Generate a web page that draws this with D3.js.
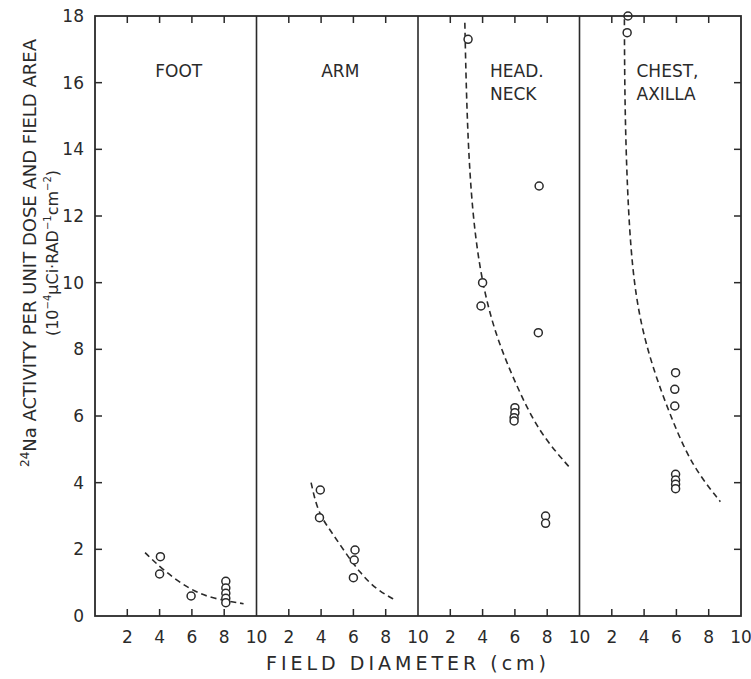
<!doctype html>
<html>
<head>
<meta charset="utf-8">
<title>24Na activity vs field diameter</title>
<script src="https://d3js.org/d3.v7.min.js"></script>
<style>
  body { margin: 0; background: #fff; }
  text { font-family: "DejaVu Sans", sans-serif; fill: #2a2a2a; }
</style>
</head>
<body>
<div id="here"></div>
<script>
// panels, left to right
var panels = ["FOOT", "ARM", "HEAD.|NECK", "CHEST,|AXILLA"];
var xTicks = [2, 4, 6, 8];
var xTickLabels = [2, 4, 6, 8, 10];
var yTicks = [0, 2, 4, 6, 8, 10, 12, 14, 16, 18];

// measured points (field diameter cm, activity)
var footPts = [[4.05, 1.78], [4.0, 1.26], [5.95, 0.6], [8.1, 1.04], [8.1, 0.84], [8.1, 0.68], [8.1, 0.53], [8.1, 0.4]];
var armPts = [[3.95, 3.78], [3.9, 2.95], [6.1, 1.98], [6.05, 1.68], [6.0, 1.15]];
var headPts = [[3.1, 17.3], [7.5, 12.9], [4.0, 10.0], [3.9, 9.3], [7.45, 8.5], [6.0, 6.25], [6.0, 6.1], [5.95, 5.95], [5.95, 5.85], [7.9, 3.0], [7.9, 2.78]];
var chestPts = [[3.0, 18.0], [2.95, 17.5], [5.95, 7.3], [5.9, 6.8], [5.9, 6.3], [5.95, 4.25], [5.95, 4.08], [5.95, 3.95], [5.95, 3.82]];

// dashed fitted curves
var footCurve = [[3.1, 1.9], [4.25, 1.36], [5.9, 0.78], [7.3, 0.52], [9.2, 0.37]];
var armCurve = [[3.38, 4.0], [3.8, 3.1], [4.6, 2.55], [5.5, 1.9], [6.4, 1.3], [7.4, 0.8], [8.65, 0.46]];
var headCurve = [[2.9, 17.8], [3.0, 15.5], [3.2, 13.2], [3.55, 11.3], [4.1, 9.7], [4.9, 8.3], [6.1, 6.9], [7.5, 5.5], [9.4, 4.45]];
var chestCurve = [[2.78, 17.9], [2.8, 15.5], [2.95, 12.8], [3.25, 10.4], [3.8, 8.7], [4.7, 7.2], [5.8, 5.8], [7.0, 4.48], [8.72, 3.43]];

var pts = [footPts, armPts, headPts, chestPts];
var curves = [footCurve, armCurve, headCurve, chestCurve];

var W = 751, H = 679;
var mLeft = 95, mRight = 741, mTop = 16, mBottom = 616;
var pw = (mRight - mLeft) / panels.length;
var ink = "#2a2a2a";

var svg = d3.select("#here").append("svg")
  .attr("width", W)
  .attr("height", H);

var y = d3.scaleLinear().domain([0, 18]).range([mBottom, mTop]);

// y ticks, inside on both outer edges
yTicks.slice(1, -1).forEach(function(v) {
  svg.append("line").attr("x1", mLeft).attr("x2", mLeft + 7).attr("y1", y(v)).attr("y2", y(v))
    .attr("stroke", ink).attr("stroke-width", 1.5);
  svg.append("line").attr("x1", mRight).attr("x2", mRight - 7).attr("y1", y(v)).attr("y2", y(v))
    .attr("stroke", ink).attr("stroke-width", 1.5);
});
svg.selectAll(".ylab").data(yTicks).enter().append("text")
  .attr("x", 84).attr("y", function(d) { return y(d) + 6; })
  .attr("text-anchor", "end").attr("font-size", 17)
  .text(function(d) { return d; });

var line = d3.line().curve(d3.curveBasis);

panels.forEach(function(name, i) {
  var x = d3.scaleLinear().domain([0, 10]).range([mLeft + i * pw, mLeft + (i + 1) * pw]);
  var g = svg.append("g");

  // ticks top and bottom
  xTicks.forEach(function(v) {
    g.append("line").attr("x1", x(v)).attr("x2", x(v)).attr("y1", mBottom).attr("y2", mBottom - 7)
      .attr("stroke", ink).attr("stroke-width", 1.5);
    g.append("line").attr("x1", x(v)).attr("x2", x(v)).attr("y1", mTop).attr("y2", mTop + 7)
      .attr("stroke", ink).attr("stroke-width", 1.5);
  });
  g.selectAll(".xlab").data(xTickLabels).enter().append("text")
    .attr("x", function(d) { return x(d); }).attr("y", 643)
    .attr("text-anchor", "middle").attr("font-size", 17)
    .text(function(d) { return d; });

  // divider
  if (i > 0) {
    g.append("line").attr("x1", x(0)).attr("x2", x(0)).attr("y1", mTop).attr("y2", mBottom)
      .attr("stroke", ink).attr("stroke-width", 1.6);
  }

  // title
  var parts = name.split("|");
  if (parts.length === 1) {
    g.append("text").attr("x", (x(0) + x(10)) / 2 + 3).attr("y", 77)
      .attr("text-anchor", "middle").attr("font-size", 17).text(parts[0]);
  } else {
    parts.forEach(function(p, k) {
      g.append("text").attr("x", x(0) + (i === 2 ? 72 : 57)).attr("y", 77 + k * 23)
        .attr("font-size", 17).text(p);
    });
  }

  g.append("path")
    .attr("d", line(curves[i].map(function(d) { return [x(d[0]), y(d[1])]; })))
    .attr("fill", "none").attr("stroke", ink).attr("stroke-width", 1.6)
    .attr("stroke-dasharray", "6,4");

  g.selectAll("circle").data(pts[i]).enter().append("circle")
    .attr("cx", function(d) { return x(d[0]); })
    .attr("cy", function(d) { return y(d[1]); })
    .attr("r", 4)
    .attr("fill", "#fff").attr("stroke", ink).attr("stroke-width", 1.5);
});

// frame
svg.append("rect").attr("x", mLeft).attr("y", mTop).attr("width", mRight - mLeft).attr("height", mBottom - mTop)
  .attr("fill", "none").attr("stroke", ink).attr("stroke-width", 1.8);

// axis titles
svg.append("text").attr("x", 408).attr("y", 670).attr("text-anchor", "middle")
  .attr("font-size", 19).attr("letter-spacing", 4).text("FIELD DIAMETER (cm)");

var yl = svg.append("text").attr("transform", "translate(36,253) rotate(-90)")
  .attr("text-anchor", "middle").attr("font-size", 18);
yl.append("tspan").attr("font-size", 12).attr("dy", -7).text("24");
yl.append("tspan").attr("dy", 7).text("Na ACTIVITY PER UNIT DOSE AND FIELD AREA");

var yl2 = svg.append("text").attr("transform", "translate(58,253) rotate(-90)")
  .attr("text-anchor", "middle").attr("font-size", 16);
yl2.append("tspan").text("(10");
yl2.append("tspan").attr("font-size", 10).attr("dy", -7).text("−4");
yl2.append("tspan").attr("dy", 7).text("μCi·RAD");
yl2.append("tspan").attr("font-size", 10).attr("dy", -7).text("−1");
yl2.append("tspan").attr("dy", 7).text("cm");
yl2.append("tspan").attr("font-size", 10).attr("dy", -7).text("−2");
yl2.append("tspan").attr("dy", 7).text(")");
</script>
</body>
</html>
